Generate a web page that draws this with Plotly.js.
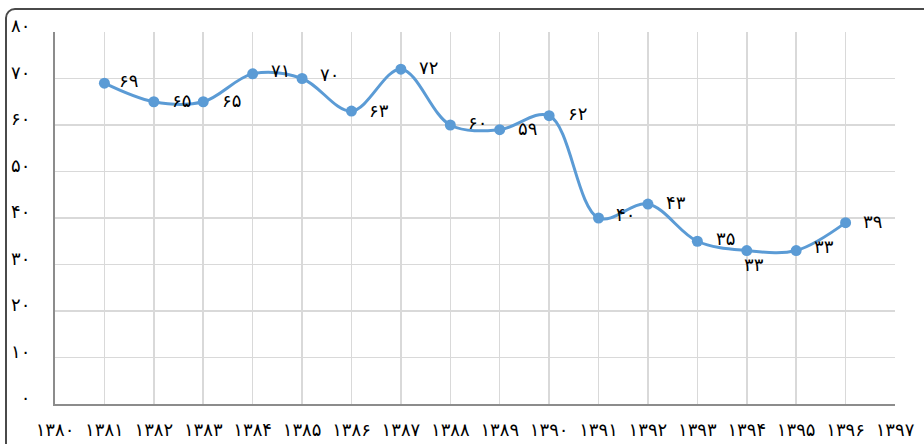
<!DOCTYPE html>
<html>
<head>
<meta charset="utf-8">
<script src="https://cdn.plot.ly/plotly-3.0.1.min.js"></script>
<style>
  html, body { margin: 0; padding: 0; background: #fff; overflow: hidden; }
  #wrap { position: relative; width: 924px; height: 444px; }
  #chart { position: absolute; left: 0; top: 0; width: 924px; height: 444px; }
  #frame { position: absolute; left: 5px; top: 8px; width: 1000px; height: 600px;
           border: 2px solid #4a4a4a; border-radius: 10px; pointer-events: none; box-sizing: border-box; }
</style>
</head>
<body>
<div id="wrap">
  <div id="chart"></div>
  <div id="frame"></div>
</div>
<script>
// Years (Persian calendar), shown with Persian digits
const years = ['۱۳۸۰','۱۳۸۱','۱۳۸۲','۱۳۸۳','۱۳۸۴','۱۳۸۵','۱۳۸۶','۱۳۸۷','۱۳۸۸','۱۳۸۹',
               '۱۳۹۰','۱۳۹۱','۱۳۹۲','۱۳۹۳','۱۳۹۴','۱۳۹۵','۱۳۹۶','۱۳۹۷'];
// Series values (null = no data for that year)
const values = [null, 69, 65, 65, 71, 70, 63, 72, 60, 59, 62, 40, 43, 35, 33, 33, 39, null];
// Y-axis tick values and labels
const yTickVals = [0, 10, 20, 30, 40, 50, 60, 70, 80];
const yTickText = ['۰','۱۰','۲۰','۳۰','۴۰','۵۰','۶۰','۷۰','۸۰'];

// Data-label pixel offsets (style only)
const labelDx = [0, 24, 28, 28, 28, 27, 28, 28, 27, 28, 28, 27, 28, 28, 7, 28, 27, 0];
const labelDy = [0, 3, 1, 1, 3, 4, 1, 2, 3, 1, 2, 4, 2, 3, -14, 4, 1, 0];

const faDigits = '۰۱۲۳۴۵۶۷۸۹';
const toFa = n => String(n).replace(/[0-9]/g, d => faDigits[+d]);

const FONT = 'DejaVu Sans';

const trace = {
  type: 'scatter',
  mode: 'lines+markers',
  x: years,
  y: values,
  line: { color: '#5B9BD5', width: 3, shape: 'spline', smoothing: 1 },
  marker: { color: '#5B9BD5', size: 11 },
  connectgaps: false,
  cliponaxis: false,
  hoverinfo: 'skip'
};

const annotations = [];
values.forEach((v, i) => {
  if (v === null) return;
  annotations.push({
    x: years[i], y: v, xref: 'x', yref: 'y',
    text: toFa(v), showarrow: false,
    xanchor: 'center', yanchor: 'middle',
    xshift: labelDx[i], yshift: labelDy[i],
    font: { family: FONT, size: 18, color: '#000' }
  });
});

const layout = {
  width: 924, height: 444,
  margin: { l: 55, r: 29, t: 32, b: 40 },
  paper_bgcolor: '#fff', plot_bgcolor: '#fff',
  showlegend: false,
  font: { family: FONT, color: '#000' },
  annotations: annotations,
  xaxis: {
    type: 'category',
    range: [0, 17],
    showgrid: true, gridcolor: '#d9d9d9', gridwidth: 1.5,
    showline: true, linecolor: '#8c8c8c', linewidth: 2,
    zeroline: false,
    ticks: '', ticklabelstandoff: 8,
    tickfont: { family: FONT, size: 18, color: '#000' },
    fixedrange: true
  },
  yaxis: {
    range: [0, 80],
    tickvals: yTickVals, ticktext: yTickText,
    showgrid: true, gridcolor: '#d9d9d9', gridwidth: 1.5,
    showline: true, linecolor: '#8c8c8c', linewidth: 2,
    zeroline: false,
    ticks: '', ticklabelstandoff: 19, ticklabelshift: -6,
    tickfont: { family: FONT, size: 18, color: '#000' },
    fixedrange: true
  }
};

Plotly.newPlot('chart', [trace], layout, { displayModeBar: false, staticPlot: true });
</script>
</body>
</html>
